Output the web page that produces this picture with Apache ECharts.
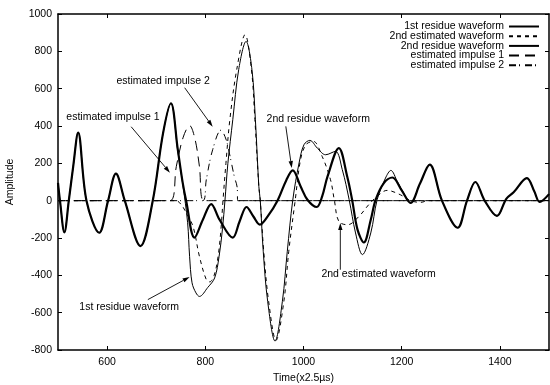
<!DOCTYPE html>
<html>
<head>
<meta charset="utf-8">
<script src="https://cdn.jsdelivr.net/npm/echarts@6/dist/echarts.min.js"></script>
<style>
html, body { margin: 0; padding: 0; background: #fff; }
#main { width: 550px; height: 385px; }
</style>
</head>
<body>
<div id="main"></div>
<script>
// values, [time, amplitude]
const xTicks = [600, 800, 1000, 1200, 1400];

const residue2 = [
  [500, 95], [504, 0], [513, -170], [522, 0], [531, 184], [541, 365], [558, 0], [584, -172], [602, 0],
  [618, 145], [636, 0], [668, -243], [693, 0], [714, 362], [730, 522], [744, 273], [754, 95], [761, 0],
  [778, -198], [795, -102], [812, -18], [829, -102], [856, -198], [870, -110], [884, -34], [898, -85],
  [911, -128], [927, -84], [947, 0], [965, 110], [978, 162], [994, 77], [1008, 5], [1027, -34],
  [1038, 23], [1049, 130], [1072, 282], [1089, 130], [1099, 5], [1110, -155], [1123, -224],
  [1137, -102], [1147, 5], [1164, 95], [1181, 124], [1200, 55], [1218, -12], [1237, 90], [1257, 193],
  [1282, 0], [1314, -145], [1333, 0], [1350, 100], [1369, 0], [1394, -82], [1413, 10], [1428, 45],
  [1455, 121], [1470, 50], [1481, -7], [1500, 35]
];

const residue1 = [
  [500, 95], [504, 0], [513, -170], [522, 0], [531, 184], [541, 365], [558, 0], [584, -172], [602, 0],
  [618, 145], [636, 0], [668, -243], [693, 0], [714, 362], [730, 522], [744, 265], [754, 90],
  [764, -118], [768, -298], [773, -440], [781, -494], [788, -513], [805, -465], [819, -414],
  [828, -300], [835, -150], [840, 0], [846, 200], [856, 434], [868, 702], [883, 853], [895, 702],
  [902, 434], [909, 77], [912, 0], [918, -271], [927, -539], [942, -752], [957, -539], [967, -271],
  [978, 0], [991, 202], [1001, 300], [1013, 323], [1028, 282], [1045, 246], [1065, 264], [1079, 166],
  [1093, 5], [1106, -173], [1120, -289], [1137, -173], [1150, 5], [1167, 121], [1178, 162],
  [1191, 103], [1204, 41], [1218, -12], [1237, 90], [1257, 193], [1282, 0], [1314, -145], [1333, 0],
  [1350, 100], [1369, 0], [1394, -82], [1413, 10], [1428, 45], [1455, 121], [1470, 50], [1481, -7],
  [1500, 35]
];

const estimated2 = [
  [500, 0], [740, 0], [752, -25], [762, -70], [775, -138], [788, -298], [802, -423], [809, -435],
  [818, -400], [826, -300], [832, -150], [836, 0], [842, 200], [850, 434], [864, 702], [881, 889],
  [894, 702], [901, 434], [909, 77], [912, 0], [919, -271], [929, -539], [944, -748], [960, -539],
  [970, -271], [983, 0], [994, 220], [1005, 300], [1020, 318], [1038, 237], [1055, 112], [1063, 0],
  [1072, -111], [1090, -129], [1113, -84], [1133, -21], [1150, 23], [1170, 55], [1197, 32],
  [1218, 0], [1238, -9], [1255, 0], [1500, 0]
];

const impulse1 = [
  [500, 0], [728, 0], [741, 184], [755, 340], [768, 402], [779, 330], [788, 184], [797, 0], [1500, 0]
];

const impulse2 = [
  [500, 0], [795, 0], [802, 112], [815, 273], [832, 378], [842, 330], [849, 255], [859, 130],
  [865, 70], [866, 0], [1500, 0]
];

// annotation text, text centre, arrow start, arrow tip (data coords)
const notes = [
  ['estimated impulse 2', [714, 643], [758, 605], [815, 396]],
  ['estimated impulse 1', [612, 450], [649, 396], [728, 150]],
  ['2nd residue waveform', [1030, 439], [964, 398], [976, 175]],
  ['1st residue waveform', [645, -568], [683, -530], [768, -409]],
  ['2nd estimated waveform', [1153, -396], [1075, -370], [1075, -120]]
];

const FONT = 'Liberation Sans';
const chart = echarts.init(document.getElementById('main'));

function line(name, data, width, type) {
  return {
    name: name,
    type: 'line',
    data: data,
    symbol: 'none',
    showSymbol: false,
    smooth: 0.35,
    silent: true,
    itemStyle: { color: '#000' },
    lineStyle: { color: '#000', width: width, type: type },
    emphasis: { disabled: true }
  };
}

const axisLine = { onZero: false, lineStyle: { color: '#000', width: 1.5 } };
const tick = { inside: true, length: 4, lineStyle: { color: '#000', width: 1 } };
const plain = v => String(v);

const option = {
  animation: false,
  backgroundColor: '#fff',
  grid: { left: 58, right: 1, top: 14, bottom: 35, containLabel: false, outerBoundsMode: 'none' },
  legend: {
    orient: 'vertical',
    align: 'right',
    right: 10,
    top: 21,
    padding: 0,
    itemWidth: 30,
    itemHeight: 9,
    itemGap: -1.3,
    selectedMode: false,
    itemStyle: { opacity: 0 },
    textStyle: { fontSize: 10.5, lineHeight: 10, fontFamily: FONT, color: '#000' }
  },
  xAxis: [{
    type: 'value', min: 500, max: 1500, interval: 100,
    name: 'Time(x2.5\u00b5s)', nameLocation: 'middle', nameGap: 22,
    nameTextStyle: { fontSize: 10.5, fontFamily: FONT, color: '#000' },
    axisLine: axisLine,
    axisTick: Object.assign({ customValues: xTicks }, tick),
    axisLabel: { customValues: xTicks, formatter: plain, margin: 7, fontSize: 10.5, fontFamily: FONT, color: '#000' },
    splitLine: { show: false }
  }, {
    type: 'value', position: 'top', min: 500, max: 1500, interval: 100,
    axisLine: axisLine,
    axisTick: Object.assign({ customValues: xTicks }, tick),
    axisLabel: { show: false },
    splitLine: { show: false }
  }],
  yAxis: [{
    type: 'value', min: -800, max: 1000, interval: 200,
    name: 'Amplitude', nameLocation: 'middle', nameGap: 42,
    nameTextStyle: { fontSize: 10.5, fontFamily: FONT, color: '#000' },
    axisLine: axisLine,
    axisTick: tick,
    axisLabel: { formatter: plain, margin: 6, fontSize: 10.5, fontFamily: FONT, color: '#000' },
    splitLine: { show: false }
  }, {
    type: 'value', position: 'right', min: -800, max: 1000, interval: 200,
    axisLine: axisLine,
    axisTick: tick,
    axisLabel: { show: false },
    splitLine: { show: false }
  }],
  series: [
    line('1st residue waveform', residue1, 1, 'solid'),
    line('2nd estimated waveform', estimated2, 1, [4, 4]),
    line('2nd residue waveform', residue2, 2.2, 'solid'),
    line('estimated impulse 1', impulse1, 1, [10, 6]),
    line('estimated impulse 2', impulse2, 1, [7, 3, 1, 5])
  ]
};

chart.setOption(option);

// annotations with arrows, placed through the axes
const toPx = p => chart.convertToPixel({ xAxisIndex: 0, yAxisIndex: 0 }, p);
const graphics = [];
notes.forEach(n => {
  const c = toPx(n[1]), a = toPx(n[2]), b = toPx(n[3]);
  graphics.push({
    type: 'text', x: c[0], y: c[1], silent: true,
    style: { text: n[0], fill: '#000', font: '10.5px "' + FONT + '"', align: 'center', verticalAlign: 'middle' }
  });
  const dx = b[0] - a[0], dy = b[1] - a[1];
  const len = Math.sqrt(dx * dx + dy * dy);
  const ux = dx / len, uy = dy / len;
  const hl = 7, hw = 2.2;
  const bx = b[0] - ux * hl, by = b[1] - uy * hl;
  graphics.push({
    type: 'line', silent: true,
    shape: { x1: a[0], y1: a[1], x2: bx, y2: by },
    style: { stroke: '#000', lineWidth: 0.9 }
  });
  graphics.push({
    type: 'polygon', silent: true,
    shape: { points: [[b[0], b[1]], [bx - uy * hw, by + ux * hw], [bx + uy * hw, by - ux * hw]] },
    style: { fill: '#000' }
  });
});
chart.setOption({ graphic: graphics });
</script>
</body>
</html>
